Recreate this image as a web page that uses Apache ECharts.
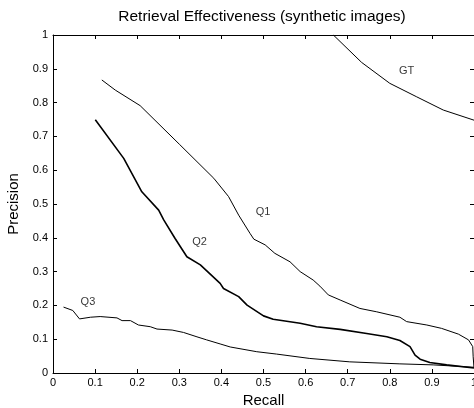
<!DOCTYPE html>
<html>
<head>
<meta charset="utf-8">
<script src="https://cdn.jsdelivr.net/npm/echarts@6/dist/echarts.min.js"></script>
<style>html,body{margin:0;padding:0;background:#fff;}#c{width:474px;height:408px;}</style>
</head>
<body>
<div id="c"></div>
<script>
var xTicks = [0,0.1,0.2,0.3,0.4,0.5,0.6,0.7,0.8,0.9,1];
var yTicks = [0,0.1,0.2,0.3,0.4,0.5,0.6,0.7,0.8,0.9,1];

var gtRecall    = [0.666,0.733,0.800,0.864,0.927,1.000];
var gtPrecision = [1.000,0.919,0.857,0.817,0.778,0.748];

var q1Recall    = [0.116,0.148,0.207,0.300,0.382,0.417,0.441,0.468,0.477,0.504,0.527,0.563,0.587,0.618,0.634,0.654,0.682,0.729,0.769,0.824,0.840,0.888,0.923,0.963,0.987,0.997,0.998,1.000];
var q1Precision = [0.867,0.837,0.791,0.677,0.576,0.522,0.467,0.413,0.396,0.379,0.354,0.329,0.300,0.275,0.257,0.231,0.216,0.191,0.181,0.165,0.152,0.142,0.132,0.115,0.098,0.078,0.048,0.015];

var q2Recall    = [0.1005,0.168,0.211,0.251,0.263,0.290,0.318,0.350,0.397,0.405,0.441,0.461,0.500,0.523,0.587,0.626,0.682,0.745,0.793,0.824,0.848,0.860,0.872,0.895,0.935,1.000];
var q2Precision = [0.749,0.635,0.536,0.482,0.453,0.398,0.344,0.320,0.265,0.250,0.226,0.201,0.169,0.159,0.147,0.137,0.129,0.117,0.107,0.096,0.078,0.053,0.041,0.031,0.024,0.015];

var q3Recall    = [0.025,0.047,0.063,0.089,0.112,0.152,0.164,0.184,0.203,0.231,0.247,0.283,0.310,0.342,0.365,0.397,0.421,0.484,0.531,0.610,0.705,0.824,0.903,1.000];
var q3Precision = [0.195,0.185,0.160,0.165,0.167,0.163,0.155,0.155,0.142,0.137,0.130,0.127,0.120,0.107,0.098,0.086,0.077,0.063,0.056,0.043,0.033,0.027,0.024,0.017];

var labelNames = ['GT','Q1','Q2','Q3'];
var labelX     = [0.840,0.499,0.348,0.083];
var labelY     = [0.893,0.476,0.389,0.211];

function pairs(xs, ys){ return xs.map(function(x,i){ return [x, ys[i]]; }); }

var FONT = '"Liberation Sans", Arial, Helvetica, sans-serif';
var chart = echarts.init(document.getElementById('c'), null, {renderer:'canvas'});

function lineSeries(name, xs, ys, w){
  return {
    name: name, type: 'line', data: pairs(xs, ys), showSymbol: false, symbol: 'none',
    lineStyle: {color: '#000', width: w}, silent: true, animation: false, clip: true
  };
}

var option = {
  animation: false,
  backgroundColor: '#fff',
  title: {
    text: 'Retrieval Effectiveness (synthetic images)',
    left: 257, top: 4, textAlign: 'center',
    textStyle: {fontFamily: FONT, fontSize: 15.5, fontWeight: 'normal', color: '#000'}
  },
  grid: {left: 53, top: 35, width: 421, height: 338, containLabel: false, outerBoundsMode: 'none'},
  xAxis: [{
    type: 'value', min: 0, max: 1, interval: 0.1, position: 'bottom',
    name: 'Recall', nameLocation: 'middle', nameGap: 20,
    nameTextStyle: {fontFamily: FONT, fontSize: 15, color: '#000'},
    axisLine: {onZero: false, lineStyle: {color: '#000', width: 1}},
    axisTick: {inside: true, length: 4, lineStyle: {color: '#000'}},
    axisLabel: {fontFamily: FONT, fontSize: 11, color: '#000', margin: 4,
      formatter: function(v){ return String(Math.round(v*10)/10); }},
    splitLine: {show: false}
  },{
    type: 'value', min: 0, max: 1, interval: 0.1, position: 'top',
    axisLine: {onZero: false, lineStyle: {color: '#000', width: 1}},
    axisTick: {inside: true, length: 4, lineStyle: {color: '#000'}},
    axisLabel: {show: false}, splitLine: {show: false}
  }],
  yAxis: [{
    type: 'value', min: 0, max: 1, interval: 0.1, position: 'left',
    name: 'Precision', nameLocation: 'middle', nameGap: 32, nameRotate: 90,
    nameTextStyle: {fontFamily: FONT, fontSize: 15, color: '#000'},
    axisLine: {show: true, onZero: false, lineStyle: {color: '#000', width: 1}},
    axisTick: {show: true, inside: true, length: 4, lineStyle: {color: '#000'}},
    axisLabel: {fontFamily: FONT, fontSize: 11, color: '#000', margin: 5,
      formatter: function(v){ return String(Math.round(v*10)/10); }},
    splitLine: {show: false}
  },{
    type: 'value', min: 0, max: 1, interval: 0.1, position: 'right',
    axisLine: {show: true, onZero: false, lineStyle: {color: '#000', width: 1}},
    axisTick: {show: true, inside: true, length: 4, lineStyle: {color: '#000'}},
    axisLabel: {show: false}, splitLine: {show: false}
  }],
  series: [
    lineSeries('GT', gtRecall, gtPrecision, 1),
    lineSeries('Q1', q1Recall, q1Precision, 1),
    lineSeries('Q2', q2Recall, q2Precision, 1.6),
    lineSeries('Q3', q3Recall, q3Precision, 1),
    {
      type: 'scatter', symbolSize: 0, silent: true,
      data: labelNames.map(function(n,i){ return {name: n, value: [labelX[i], labelY[i]]}; }),
      label: {show: true, position: 'inside', formatter: '{b}',
        fontFamily: FONT, fontSize: 11, color: '#000'}
    }
  ]
};
chart.setOption(option);
</script>
</body>
</html>
